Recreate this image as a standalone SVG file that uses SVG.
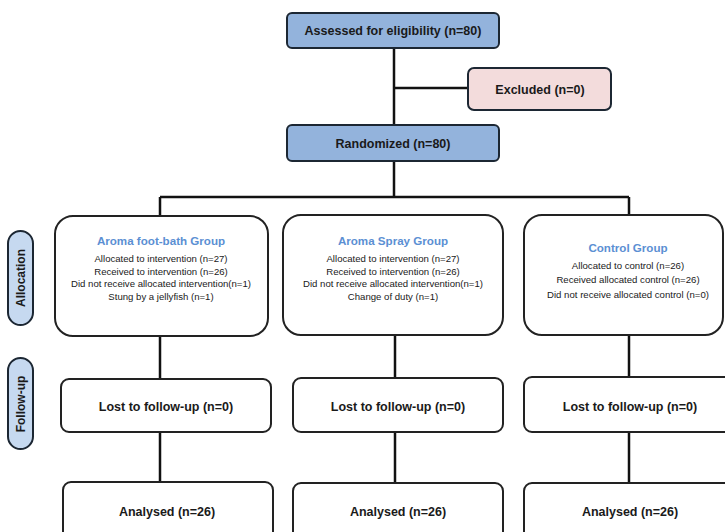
<svg xmlns="http://www.w3.org/2000/svg" width="725" height="532" viewBox="0 0 725 532">
<style>
.bl{fill:#93b3dc;stroke:#1c2733;stroke-width:2}
.ex{fill:#f3dcdc;stroke:#1c2733;stroke-width:2}
.pl{fill:#c6d9f0;stroke:#1c2733;stroke-width:2}
.wb{fill:#fff;stroke:#222;stroke-width:2}
.t{font-family:"Liberation Sans",Arial,sans-serif;font-weight:bold;font-size:12.5px;fill:#1a1a1a;text-anchor:middle}
.h{font-family:"Liberation Sans",Arial,sans-serif;font-weight:bold;font-size:11.6px;fill:#5b8fd3;text-anchor:middle}
.s{font-family:"Liberation Sans",Arial,sans-serif;font-size:9.6px;fill:#1a1a1a;text-anchor:middle}
.p{font-family:"Liberation Sans",Arial,sans-serif;font-weight:bold;font-size:12px;fill:#1a1a1a;text-anchor:middle}
.c{stroke:#111;stroke-width:2.5;fill:none}
</style>
<rect width="725" height="532" fill="#fff"/>
<g id="connectors">
<path class="c" d="M394 48V125M394 88H468M394 161V197M160 197H629M160 197V216M629 197V215M160 336V379M395 335V378M629 335V377M160 432V482M395 432V483M629 432V483"/>
</g>
<g id="allocation-label">
<rect class="pl" x="8" y="231" width="25" height="94" rx="12.5"/>
<text class="p" transform="translate(25 278) rotate(-90)">Allocation</text>
</g>
<g id="followup-label">
<rect class="pl" x="8" y="358" width="25" height="91" rx="12.5"/>
<text class="p" transform="translate(25 404) rotate(-90)">Follow-up</text>
</g>
<g id="assessed">
<rect class="bl" x="287" y="13" width="212" height="35" rx="5"/>
<text class="t" x="393" y="35">Assessed for eligibility (n=80)</text>
</g>
<g id="excluded">
<rect class="ex" x="468" y="68" width="143" height="42" rx="6"/>
<text class="t" x="540" y="93.5">Excluded (n=0)</text>
</g>
<g id="randomized">
<rect class="bl" x="287" y="125" width="212" height="36" rx="5"/>
<text class="t" x="393" y="147.5">Randomized (n=80)</text>
</g>
<g id="footbath">
<rect class="wb" x="55" y="216" width="213" height="120" rx="18"/>
<text class="h" x="161" y="245">Aroma foot-bath Group</text>
<text class="s" x="161" y="261.5">Allocated to intervention (n=27)</text>
<text class="s" x="161" y="274.5">Received to intervention (n=26)</text>
<text class="s" x="161" y="287">Did not receive allocated intervention(n=1)</text>
<text class="s" x="161" y="300">Stung by a jellyfish (n=1)</text>
</g>
<g id="spray">
<rect class="wb" x="283" y="215" width="220" height="120" rx="18"/>
<text class="h" x="393" y="245">Aroma Spray Group</text>
<text class="s" x="393" y="261.5">Allocated to intervention (n=27)</text>
<text class="s" x="393" y="274.5">Received to intervention (n=26)</text>
<text class="s" x="393" y="287">Did not receive allocated intervention(n=1)</text>
<text class="s" x="393" y="300">Change of duty (n=1)</text>
</g>
<g id="control">
<rect class="wb" x="524" y="215" width="199" height="120" rx="18"/>
<text class="h" x="628" y="252">Control Group</text>
<text class="s" x="628" y="268.5">Allocated to control (n=26)</text>
<text class="s" x="628" y="283">Received allocated control (n=26)</text>
<text class="s" x="628" y="297.5">Did not receive allocated control (n=0)</text>
</g>
<g id="lost1">
<rect class="wb" x="61" y="379" width="210" height="53" rx="8"/>
<text class="t" x="166" y="411">Lost to follow-up (n=0)</text>
</g>
<g id="lost2">
<rect class="wb" x="293" y="378" width="210" height="54" rx="8"/>
<text class="t" x="398" y="411">Lost to follow-up (n=0)</text>
</g>
<g id="lost3">
<rect class="wb" x="524" y="377" width="212" height="55" rx="8"/>
<text class="t" x="630" y="411">Lost to follow-up (n=0)</text>
</g>
<g id="analysed1">
<rect class="wb" x="63" y="482" width="210" height="60" rx="8"/>
<text class="t" x="167" y="516">Analysed (n=26)</text>
</g>
<g id="analysed2">
<rect class="wb" x="293" y="483" width="210" height="60" rx="8"/>
<text class="t" x="398" y="516">Analysed (n=26)</text>
</g>
<g id="analysed3">
<rect class="wb" x="524" y="483" width="212" height="60" rx="8"/>
<text class="t" x="630" y="516">Analysed (n=26)</text>
</g>
</svg>
